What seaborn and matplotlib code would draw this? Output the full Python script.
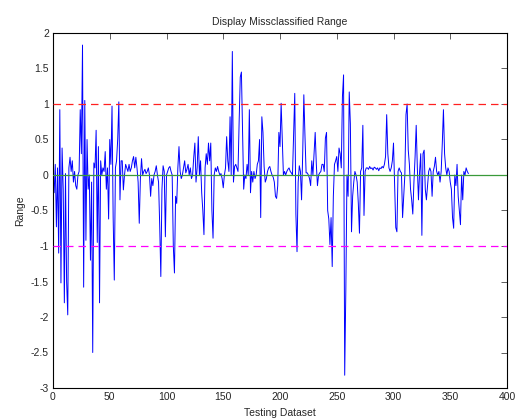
import numpy as np
import pandas as pd
import matplotlib
matplotlib.use("Agg")
import matplotlib.pyplot as plt
import seaborn as sns

# Range of each misclassified test sample, in dataset order
range_values = [
    0.0, -0.25, 0.15, -0.73, 0.1, -1.1, 0.92, -1.52, 0.38, -0.2,
    -1.8, 0.02, -1.5, -1.97, 0.1, 0.25, 0.05, 0.2, -0.1, 0.05,
    -0.15, -0.2, 0.0, 0.05, 0.92, 0.3, 1.83, -1.58, 1.05, -0.92,
    0.5, -0.2, 0.0, -1.2, -0.1, -2.5, 0.17, 0.1, 0.63, -0.95,
    0.4, -1.8, 0.2, 0.0, 0.1, 0.05, 0.33, -0.2, 0.1, -0.62,
    0.5, 0.15, 0.97, -0.6, -1.48, 0.1, 0.2, 0.5, 1.03, -0.35,
    0.2,
    # 61 - 122
    0.2, -0.21, 0.0, 0.15, 0.1, 0.05, 0.15, 0.05, 0.1, 0.2,
    0.26, 0.1, 0.25, 0.1, -0.1, -0.68, -0.05, 0.23, 0.0, 0.05,
    0.08, 0.02, 0.05, 0.1, 0.0, -0.3, -0.05, -0.15, 0.0, 0.05,
    0.13, 0.0, -0.1, -0.7, -1.43, -0.2, 0.13, 0.05, -0.87, 0.0,
    0.05, 0.1, 0.12, 0.05, 0.0, -1.0, -1.38, -0.3, -0.4, 0.1,
    0.4, 0.05, -0.05, 0.0, 0.1, 0.2, 0.03, 0.08, 0.15, 0.0,
    0.1, -0.05,
    # 123 - 183
    0.0, 0.25, 0.45, -0.1, 0.1, 0.54, 0.0, 0.2, -0.25, -0.5,
    -0.84, 0.1, 0.3, 0.15, 0.45, 0.2, 0.45, -0.5, -0.89, 0.0,
    0.1, 0.05, 0.12, 0.05, 0.0, 0.02, -0.05, -0.18, 0.0, 0.1,
    0.54, 0.2, 0.05, 0.82, 0.0, 1.74, -0.1, 0.12, 0.15, 0.1,
    0.05, 0.75, 1.38, 1.45, 0.65, -0.2, 0.0, -0.05, 0.15, 0.0,
    0.92, -0.25, 0.05, -0.1, 0.05, -0.05, 0.0, 0.15, 0.2, 0.5,
    -0.6,
    # 184 - 245
    0.82, 0.6, 0.12, -0.1, -0.05, 0.05, 0.1, 0.12, 0.05, 0.0,
    -0.03, -0.1, -0.3, -0.33, -0.15, 0.6, 0.4, 1.01, 0.5, 0.0,
    0.05, 0.0, 0.05, 0.08, 0.1, 0.05, 0.03, 0.0, 0.6, 1.15,
    -0.55, -1.08, -0.1, 0.13, 0.05, -0.35, 0.3, 1.13, 0.55, 0.03,
    0.03, 0.0, -0.05, -0.15, 0.2, 0.0, 0.3, 0.6, 0.15, -0.15,
    0.0, 0.03, 0.05, 0.15, 0.15, 0.05, 0.52, 0.6, -0.5, -0.62,
    -0.98, -0.6,
    # 246 - 307
    -1.29, -0.3, 0.15, 0.2, 0.26, 0.05, 0.38, 0.3, 0.1, 1.1,
    1.41, -2.82, -1.62, 0.0, -0.3, 1.17, 0.72, -0.8, -0.3, -0.1,
    0.05, 0.0, -0.1, -0.4, -0.82, 0.05, 0.1, 0.7, -0.57, 0.05,
    0.1, 0.1, 0.08, 0.12, 0.09, 0.1, 0.07, 0.11, 0.1, 0.08,
    0.1, 0.06, 0.1, 0.09, 0.12, 0.1, 0.15, 0.26, 0.85, 0.3,
    0.1, 0.05, 0.1, 0.2, 0.45, -0.15, -0.74, -0.8, 0.05, 0.1,
    0.05, 0.03,
    # 308 - 366
    -0.6, -0.3, 0.0, 0.85, 1.0, 0.35, 0.15, -0.2, -0.35, -0.55,
    -0.1, 0.25, 0.7, 0.1, -0.35, 0.05, 0.3, -0.85, 0.3, 0.35,
    -0.2, -0.35, -0.15, 0.05, 0.1, 0.05, -0.3, 0.05, 0.12, 0.25,
    0.05, 0.0, 0.05, -0.1, 0.05, 0.45, 0.92, 0.3, 0.1, 0.0,
    0.1, 0.05, -0.1, -0.2, -0.6, -0.75, 0.0, -0.15, 0.15, -0.3,
    -0.5, -0.7, 0.0, -0.35, 0.05, 0.0, 0.1, 0.05, 0.02,
]
sample_index = list(range(len(range_values)))

upper_limit = 1.0
lower_limit = -1.0
zero_level = 0.0
x_ticks = [0, 50, 100, 150, 200, 250, 300, 350, 400]
y_ticks = [-3, -2.5, -2, -1.5, -1, -0.5, 0, 0.5, 1, 1.5, 2]

df = pd.DataFrame({"Testing Dataset": sample_index, "Range": range_values})

sns.set_style("white")
plt.rcParams["font.family"] = ["Liberation Sans", "DejaVu Sans"]
plt.rcParams["font.size"] = 7.5

fig = plt.figure(figsize=(5.27, 4.18), dpi=100)
ax = fig.add_axes([53 / 527, 30 / 418, 454 / 527, 355 / 418])

sns.lineplot(data=df, x="Testing Dataset", y="Range", ax=ax,
             color="#0000ff", linewidth=0.7, estimator=None, zorder=2)
ax.axhline(zero_level, color="#3a9a3a", linewidth=0.9, zorder=3)
ax.axhline(upper_limit, color="#ff2020", linewidth=0.9,
           linestyle=(0, (6, 4)), zorder=3)
ax.axhline(lower_limit, color="#ff00ff", linewidth=0.9,
           linestyle=(0, (6, 4)), zorder=3)

ax.set_xlim(0, 400)
ax.set_ylim(-3, 2)
ax.set_xticks(x_ticks)
ax.set_yticks(y_ticks)
ax.set_yticklabels([f"{v:g}" for v in y_ticks])
ax.tick_params(direction="in", length=4, width=0.6, top=True, right=True,
               labelsize=7.5, pad=3, color="#444444")
for s in ax.spines.values():
    s.set_color("black")
    s.set_linewidth(0.8)

ax.set_title("Display Missclassified Range", fontsize=7.5, pad=6)
ax.set_xlabel("Testing Dataset", fontsize=7.5, labelpad=4)
ax.set_ylabel("Range", fontsize=7.5, labelpad=4)

fig.savefig("out.png", dpi=100, facecolor="white")
